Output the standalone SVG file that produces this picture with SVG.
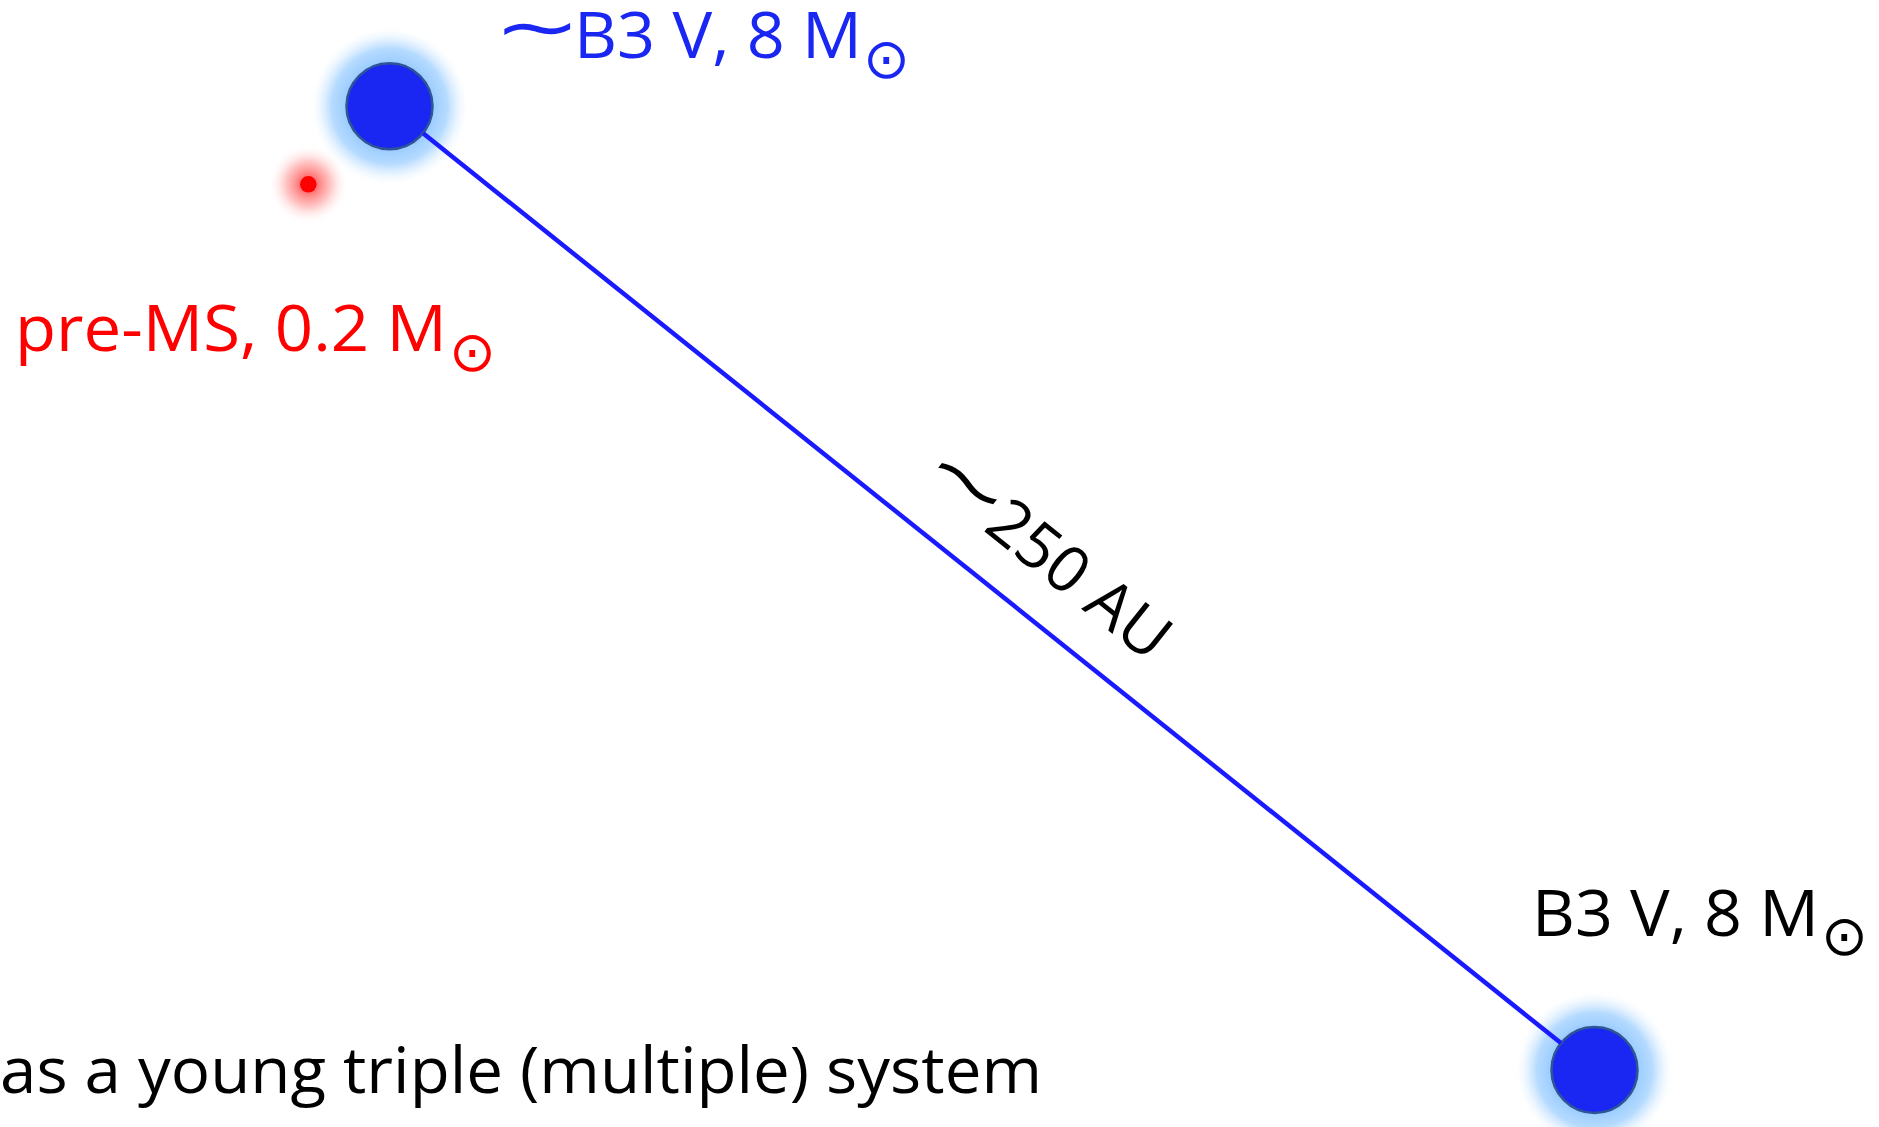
<svg xmlns="http://www.w3.org/2000/svg" width="1879" height="1127" viewBox="0 0 1879 1127">
<style>
.lbl{font-family:"Open Sans","Liberation Sans",sans-serif;font-size:64px}
.sym{font-family:"DejaVu Sans",sans-serif}
.odot{font-family:"DejaVu Sans",sans-serif;font-size:56px}
.tl{font-family:"DejaVu Sans",sans-serif;font-size:70px}
.star{fill:#1a26f2;stroke:#2f5597;stroke-width:2.5}
.blue{fill:#1a26f2}
.red{fill:#ff0000}
.blk{fill:#000000}
</style>
<defs>
<radialGradient id="glowB">
<stop offset="0" stop-color="#9ccdff" stop-opacity="1"/>
<stop offset="0.55" stop-color="#9ccdff" stop-opacity="1"/>
<stop offset="0.72" stop-color="#a8d4ff" stop-opacity="0.85"/>
<stop offset="0.86" stop-color="#c4e2ff" stop-opacity="0.35"/>
<stop offset="1" stop-color="#ffffff" stop-opacity="0"/>
</radialGradient>
<radialGradient id="glowR">
<stop offset="0" stop-color="#ff5050" stop-opacity="1"/>
<stop offset="0.25" stop-color="#ff7070" stop-opacity="0.9"/>
<stop offset="0.55" stop-color="#ff9a9a" stop-opacity="0.6"/>
<stop offset="1" stop-color="#ffffff" stop-opacity="0"/>
</radialGradient>
</defs>
<rect width="1879" height="1127" fill="#ffffff"/>
<g id="star-primary">
<circle cx="389.5" cy="106.3" r="80" fill="url(#glowB)"/>
<circle class="star" cx="389.5" cy="106.3" r="43"/>
<text class="tl blue" transform="translate(505,30.5) scale(1.5,1)" x="-7.9" y="20.6">∼</text>
<text class="lbl blue" x="574" y="58" textLength="288" lengthAdjust="spacingAndGlyphs">B3 V, 8 M</text>
<text class="odot blue" x="863" y="78">⊙</text>
</g>
<g id="star-premain">
<circle cx="308.3" cy="184.3" r="40" fill="url(#glowR)"/>
<circle cx="308.3" cy="184.3" r="8.3" fill="#ff0000"/>
<text class="lbl red" x="15" y="351" textLength="432" lengthAdjust="spacingAndGlyphs">pre-MS, 0.2 M</text>
<text class="odot red" x="449" y="371">⊙</text>
</g>
<g id="star-secondary">
<circle cx="1594.5" cy="1070" r="80" fill="url(#glowB)"/>
<circle class="star" cx="1594.5" cy="1070" r="43"/>
<text class="lbl blk" x="1532" y="936" textLength="287" lengthAdjust="spacingAndGlyphs">B3 V, 8 M</text>
<text class="odot blk" x="1821" y="955">⊙</text>
</g>
<g id="connectors">
<line x1="423.1" y1="133.3" x2="1560.9" y2="1043.1" stroke="#1a1aff" stroke-width="4.5"/>
<g transform="translate(389.5,106.3) rotate(38.65)">
<text class="tl blk" transform="translate(655,-65.1) scale(1.5,1)" x="-7.9" y="20.6">∼</text>
<text class="lbl blk" x="727" y="-39.5" textLength="214" lengthAdjust="spacingAndGlyphs">250 AU</text>
</g>
</g>
<g id="caption">
<text class="lbl blk" x="0" y="1093" textLength="1042" lengthAdjust="spacingAndGlyphs">as a young triple (multiple) system</text>
</g>
</svg>
